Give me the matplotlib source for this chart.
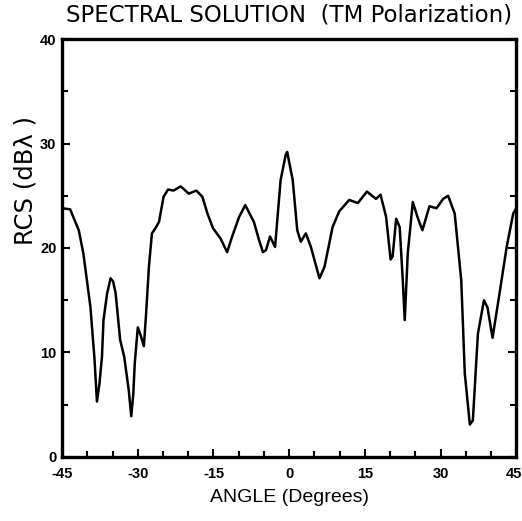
import numpy as np
import matplotlib
matplotlib.use('Agg')
import matplotlib.pyplot as plt

# RCS vs. angle, spectral solution, TM polarization
angle = [-45.0, -43.4, -41.7, -40.8, -39.4, -38.6, -38.1, -37.6, -37.1, -36.8, -36.1,
         -35.4, -34.9, -34.4, -33.5, -32.7, -31.8, -31.3, -30.9, -30.6, -30.0, -29.4,
         -28.8, -28.4, -27.8, -27.2, -26.5, -25.8, -24.9, -24.0, -22.9, -21.5, -19.9,
         -18.4, -17.2, -16.2, -15.1, -13.6, -12.3, -11.3, -9.9, -8.7, -7.0, -6.0,
         -5.2, -4.6, -3.8, -2.8, -1.7, -0.7, -0.4, 0.7, 1.6, 2.3, 3.3, 4.3, 6.0,
         7.0, 8.6, 9.9, 11.9, 13.6, 15.4, 17.2, 18.1, 19.2, 20.1, 20.5, 21.2, 21.9,
         22.5, 22.9, 23.5, 24.5, 25.4, 26.4, 27.8, 29.2, 30.5, 31.5, 32.8, 34.1,
         34.8, 35.8, 36.4, 37.4, 38.6, 39.3, 40.3, 41.7, 43.1, 44.4, 45.0]
rcs = [23.8, 23.7, 21.7, 19.5, 14.4, 9.5, 5.3, 7.0, 9.6, 13.1, 15.6,
       17.1, 16.8, 15.7, 11.2, 9.6, 6.4, 3.9, 6.0, 9.0, 12.4, 11.6,
       10.6, 13.4, 18.2, 21.4, 21.9, 22.5, 24.9, 25.6, 25.5, 25.9, 25.2,
       25.5, 24.9, 23.3, 21.9, 20.9, 19.6, 21.1, 23.0, 24.1, 22.5, 20.8,
       19.6, 19.8, 21.1, 20.1, 26.5, 28.9, 29.2, 26.5, 21.7, 20.6, 21.4, 20.1, 17.1,
       18.2, 22.0, 23.5, 24.6, 24.3, 25.4, 24.7, 25.1, 23.0, 18.9, 19.2, 22.8, 22.0,
       17.0, 13.1, 19.5, 24.4, 23.0, 21.7, 24.0, 23.8, 24.7, 25.0, 23.3, 16.9,
       8.0, 3.1, 3.5, 11.8, 15.0, 14.3, 11.4, 15.7, 20.1, 23.3, 23.8]

x_ticks = [-45, -30, -15, 0, 15, 30, 45]
y_ticks = [0, 10, 20, 30, 40]

fig = plt.figure(figsize=(5.22, 5.21), dpi=100)
ax = fig.add_axes([0.119, 0.123, 0.870, 0.802])

ax.plot(angle, rcs, color='black', lw=1.8)

ax.set_xlim(-45, 45)
ax.set_ylim(0, 40)
ax.set_xticks(x_ticks)
ax.set_xticks(np.arange(-45, 46, 5), minor=True)
ax.set_yticks(y_ticks)
ax.set_yticks(np.arange(0, 41, 5), minor=True)

tick_font = dict(family='Liberation Sans', weight='bold', size=10.5)
# the 45 label sits at the figure edge, so it is placed separately below
ax.set_xticklabels([str(v) for v in x_ticks[:-1]] + [''], **tick_font)
ax.set_yticklabels([str(v) for v in y_ticks], **tick_font)
ax.annotate(str(x_ticks[-1]), xy=(x_ticks[-1], 0), xycoords=('data', 'axes fraction'),
            xytext=(4, -7), textcoords='offset points', ha='right', va='top', **tick_font)

ax.tick_params(which='both', direction='in', top=False, right=True, width=1.5, pad=7)
ax.tick_params(which='major', length=6)
ax.tick_params(which='minor', length=4)
ax.tick_params(axis='y', pad=4)
for s in ax.spines.values():
    s.set_linewidth(2.4)

ax.set_xlabel('ANGLE (Degrees)', family='Liberation Sans', fontsize=14, labelpad=6)
fig.text(0.048, 0.653, 'RCS (dB\u03bb )', rotation=90, ha='center', va='center',
         family='DejaVu Sans', fontsize=17.5)
fig.text(0.554, 0.971, 'SPECTRAL SOLUTION  (TM Polarization)', ha='center', va='center',
         family='DejaVu Sans', fontsize=16.5)

fig.savefig('out.png', dpi=100, facecolor='white')
